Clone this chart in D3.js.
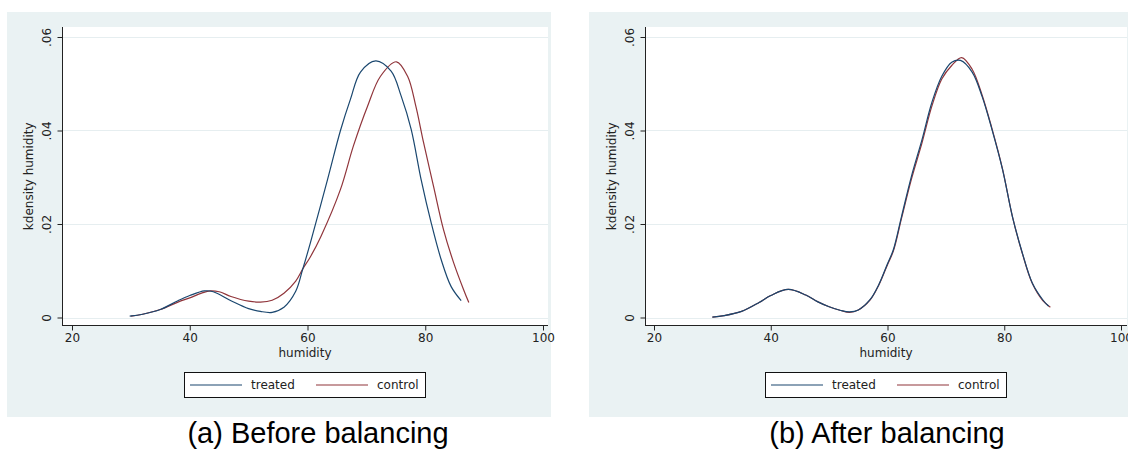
<!DOCTYPE html>
<html>
<head>
<meta charset="utf-8">
<script src="https://cdn.jsdelivr.net/npm/d3@7"></script>
<style>
  body { margin: 0; background: #fff; }
  svg text { font-family: "DejaVu Sans", sans-serif; }
  svg text.caption { font-family: "Liberation Sans", Arial, sans-serif; }
</style>
</head>
<body>
<svg id="chart" width="1128" height="449"></svg>
<script>
var humidityTicks = [20, 40, 60, 80, 100];
var densityTicks = [0, 0.02, 0.04, 0.06];
var densityLabels = ['0', '.02', '.04', '.06'];
var seriesNames = ['treated', 'control'];
var captions = ['(a) Before balancing', '(b) After balancing'];

// [humidity, density]
var beforeTreated = [[29.8,0.0003],[32,0.0007],[35,0.0017],[38,0.0036],[40,0.0047],[42.5,0.0057],[44,0.0055],
  [47,0.0036],[50,0.0019],[52,0.0013],[54,0.0011],[56,0.0022],[58,0.0056],[59.2,0.0104],[60.5,0.016],
  [63.4,0.0295],[65.6,0.040],[67.3,0.0467],[69,0.0525],[71.6,0.0549],[74.2,0.0527],[75.9,0.0474],
  [77.6,0.0403],[79.3,0.0295],[81,0.0203],[82.7,0.0124],[84.4,0.0066],[86.1,0.0036]];
var beforeControl = [[30,0.0003],[32,0.0007],[35,0.0017],[38,0.0033],[40,0.0042],[42,0.0052],[43.5,0.0057],
  [45,0.0055],[47,0.0045],[50,0.0035],[52,0.0033],[54,0.0037],[56,0.0052],[58,0.0078],[59.2,0.0104],
  [60.5,0.013],[62.3,0.0174],[65.6,0.0274],[67.8,0.0367],[70.2,0.0452],[72.4,0.0516],[75.1,0.0547],
  [77,0.0516],[78.4,0.0452],[79.7,0.0375],[81.4,0.0281],[83.1,0.0188],[84.8,0.0118],[86.5,0.006],[87.4,0.0032]];
var afterTreated = [[30,0.0001],[32,0.0004],[35,0.0013],[38,0.0032],[40,0.0047],[43,0.006],[46,0.0048],
  [48,0.0034],[50,0.0023],[52,0.0015],[53.5,0.0012],[55,0.0016],[57,0.0038],[58.5,0.007],[60,0.0115],
  [61,0.0145],[62.4,0.0216],[64.1,0.0302],[65.9,0.038],[67.6,0.046],[69.3,0.0516],[71,0.0546],[72.5,0.055],
  [74.5,0.0525],[76.2,0.0473],[77.9,0.0402],[79.7,0.0317],[81.4,0.0216],[83.1,0.0138],[84.8,0.0074],
  [86.6,0.0038],[87.6,0.0024]];
var afterControl = [[30,0.0001],[32,0.0004],[35,0.0013],[38,0.0032],[40,0.0047],[43,0.006],[46,0.0048],
  [48,0.0034],[50,0.0023],[52,0.0015],[53.5,0.0011],[55,0.0016],[57,0.0037],[58.5,0.0069],[60,0.0113],
  [61,0.0142],[62.4,0.0212],[64.1,0.0296],[65.9,0.0373],[67.6,0.0452],[69.3,0.051],[71,0.0539],[72.7,0.0556],
  [74.5,0.0531],[76.2,0.0476],[77.9,0.0404],[79.7,0.0318],[81.4,0.0216],[83.1,0.0137],[84.8,0.0073],
  [86.6,0.0036],[87.9,0.0022]];

var colors = { treated: '#1a476f', control: '#90353b' };

var panels = [
  { bgX: 7,   axisX: 62,  x0: 72,  x1: 543,  right: 548,  caption: captions[0], capX: 318, treated: beforeTreated, control: beforeControl },
  { bgX: 589, axisX: 645, x0: 654, x1: 1121, right: 1127, caption: captions[1], capX: 887, treated: afterTreated,  control: afterControl }
];

var svg = d3.select('#chart');
var plotTop = 27, plotBottom = 325.5;

var y = d3.scaleLinear().domain([0, 0.06]).range([317.5, 37]);

panels.forEach(function(p) {
  var g = svg.append('g');
  var x = d3.scaleLinear().domain([20, 100]).range([p.x0, p.x1]);
  var mid = (p.axisX + p.right) / 2;

  g.append('rect').attr('x', p.bgX).attr('y', 12).attr('width', 544).attr('height', 405)
    .attr('fill', '#eaf2f3');
  g.append('rect').attr('x', p.axisX).attr('y', plotTop).attr('width', p.right - p.axisX).attr('height', plotBottom - plotTop)
    .attr('fill', '#fff');

  g.selectAll('.grid').data(densityTicks).enter().append('line')
    .attr('x1', p.axisX).attr('x2', p.right)
    .attr('y1', function(d) { return Math.round(y(d)) + 0.5; })
    .attr('y2', function(d) { return Math.round(y(d)) + 0.5; })
    .attr('stroke', '#e6eef0').attr('stroke-width', 1);

  var line = d3.line()
    .x(function(d) { return x(d[0]); })
    .y(function(d) { return y(d[1]); })
    .curve(d3.curveCatmullRom);

  g.append('path').datum(p.control).attr('d', line)
    .attr('fill', 'none').attr('stroke', colors.control).attr('stroke-width', 1.2);
  g.append('path').datum(p.treated).attr('d', line)
    .attr('fill', 'none').attr('stroke', colors.treated).attr('stroke-width', 1.2);

  // axes
  var yAxis = d3.axisLeft(y).tickValues(densityTicks).tickSize(5)
    .tickFormat(function(d, i) { return densityLabels[i]; });
  var ya = g.append('g').attr('transform', 'translate(' + (p.axisX + 0.5) + ',0)').call(yAxis);
  ya.select('.domain').remove();
  ya.selectAll('.tick line').attr('stroke', '#222');
  ya.selectAll('.tick text')
    .attr('font-size', 12).attr('fill', '#222')
    .attr('transform', 'rotate(-90)')
    .attr('x', 0).attr('y', -12).attr('dy', 0)
    .attr('text-anchor', 'middle');

  var xAxis = d3.axisBottom(x).tickValues(humidityTicks).tickSize(5);
  var xa = g.append('g').attr('transform', 'translate(0,' + plotBottom + ')').call(xAxis);
  xa.select('.domain').remove();
  xa.selectAll('.tick line').attr('stroke', '#222');
  xa.selectAll('.tick text').attr('font-size', 12).attr('fill', '#222').attr('y', 8);

  g.append('line').attr('x1', p.axisX + 0.5).attr('x2', p.axisX + 0.5).attr('y1', plotTop).attr('y2', plotBottom)
    .attr('stroke', '#222');
  g.append('line').attr('x1', p.axisX).attr('x2', p.right).attr('y1', plotBottom).attr('y2', plotBottom)
    .attr('stroke', '#222');

  g.append('text').attr('x', mid).attr('y', 357).attr('text-anchor', 'middle')
    .attr('font-size', 12).attr('fill', '#222').text('humidity');
  g.append('text').attr('transform', 'translate(' + (p.axisX - 29) + ',' + ((plotTop + plotBottom) / 2) + ') rotate(-90)')
    .attr('text-anchor', 'middle').attr('font-size', 12).attr('fill', '#222').text('kdensity humidity');

  // legend
  var lg = g.append('g').attr('transform', 'translate(' + (mid - 121) + ',372)');
  lg.append('rect').attr('x', 0.5).attr('y', 0.5).attr('width', 241).attr('height', 25)
    .attr('fill', '#fff').attr('stroke', '#111');
  seriesNames.forEach(function(name, i) {
    var ox = i * 126;
    lg.append('line').attr('x1', ox + 6).attr('x2', ox + 58).attr('y1', 13).attr('y2', 13)
      .attr('stroke', colors[name]).attr('stroke-width', 1.2);
    lg.append('text').attr('x', ox + 67).attr('y', 17).attr('font-size', 12).attr('fill', '#222').text(name);
  });

  g.append('text').attr('class', 'caption').attr('x', p.capX).attr('y', 443).attr('text-anchor', 'middle')
    .attr('font-size', 29).attr('fill', '#000').text(p.caption);
});
</script>
</body>
</html>
